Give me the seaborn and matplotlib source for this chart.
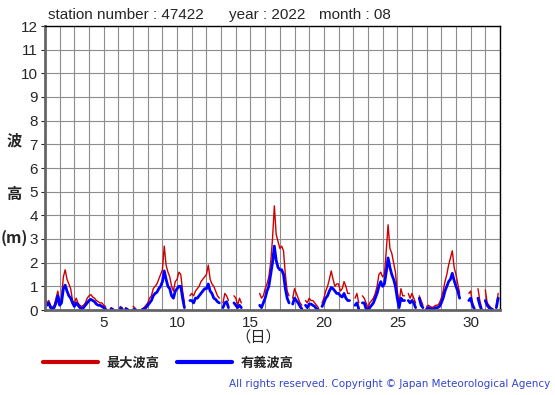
import numpy as np
import pandas as pd
import matplotlib
matplotlib.use("Agg")
import matplotlib.pyplot as plt
from matplotlib.lines import Line2D
import seaborn as sns

nan = np.nan

# 3-hourly wave heights (m), one row per day of August 2022
max_wave = [
    [0.5, 0.3, 0.4, 0.2, 0.1, 0.2, 0.5, 0.8],      # 1
    [0.3, 0.5, 1.4, 1.7, 1.3, 1.1, 0.9, 0.4],      # 2
    [0.3, 0.5, 0.3, 0.2, 0.15, 0.2, 0.3, 0.5],     # 3
    [0.6, 0.65, 0.55, 0.5, 0.4, 0.35, 0.3, 0.3],   # 4
    [0.2, 0.15, nan, nan, 0.1, 0.05, nan, nan],    # 5
    [nan, 0.15, 0.1, nan, 0.1, 0.05, nan, nan],    # 6
    [0.15, 0.1, nan, nan, nan, 0.05, 0.1, 0.2],    # 7
    [0.3, 0.5, 0.6, 0.9, 1.0, 1.1, 1.3, 1.5],      # 8
    [1.7, 2.7, 1.9, 1.6, 1.4, 1.0, 0.8, 1.2],      # 9
    [1.3, 1.6, 1.5, 0.8, 0.3, nan, nan, 0.6],      # 10
    [0.7, 0.6, 0.8, 0.9, 1.0, 1.2, 1.3, 1.4],      # 11
    [1.5, 1.9, 1.3, 1.1, 1.0, 0.8, 0.6, 0.5],      # 12
    [nan, 0.3, 0.7, 0.6, 0.4, nan, nan, 0.6],      # 13
    [0.5, 0.2, 0.5, 0.3, nan, nan, nan, nan],      # 14
    [nan, nan, nan, nan, nan, 0.7, 0.5, 0.6],      # 15
    [0.9, 1.1, 1.4, 2.0, 3.0, 4.4, 3.2, 2.9],      # 16
    [2.6, 2.7, 2.5, 1.5, 0.8, 0.6, nan, 0.5],      # 17
    [0.9, 0.7, 0.5, 0.3, 0.2, nan, 0.4, 0.3],      # 18
    [0.5, 0.4, 0.4, 0.3, 0.2, 0.1, nan, 0.3],      # 19
    [0.5, 0.8, 1.0, 1.3, 1.65, 1.3, 1.0, 1.1],     # 20
    [1.1, 0.8, 0.9, 1.2, 1.0, 0.7, 0.7, nan],      # 21
    [nan, 0.5, 0.7, 0.3, nan, 0.6, 0.5, 0.3],      # 22
    [0.1, 0.3, 0.4, 0.5, 0.7, 1.0, 1.5, 1.6],      # 23
    [1.4, 1.5, 2.5, 3.6, 2.6, 2.4, 2.0, 1.6],      # 24
    [0.8, 0.3, 0.9, 0.6, 0.6, nan, 0.7, 0.5],      # 25
    [0.7, 0.5, 0.3, nan, 0.6, 0.4, 0.2, nan],      # 26
    [0.15, 0.2, 0.15, 0.1, 0.15, 0.2, 0.2, 0.3],   # 27
    [0.5, 0.8, 1.2, 1.5, 1.9, 2.2, 2.5, 1.8],      # 28
    [1.5, 1.1, 0.7, nan, nan, nan, nan, 0.7],      # 29
    [0.8, 0.3, 0.1, nan, 0.9, 0.4, 0.1, nan],      # 30
    [0.85, 0.3, 0.2, 0.1, 0.05, nan, 0.2, 0.7],    # 31
]
sig_wave = [
    [0.3, 0.2, 0.3, 0.1, 0.05, 0.1, 0.3, 0.6],
    [0.2, 0.3, 0.9, 1.05, 0.8, 0.6, 0.5, 0.3],
    [0.15, 0.3, 0.2, 0.1, 0.05, 0.1, 0.2, 0.3],
    [0.4, 0.45, 0.4, 0.35, 0.25, 0.2, 0.2, 0.15],
    [0.1, 0.05, nan, nan, 0.05, 0.02, nan, nan],
    [nan, 0.08, 0.05, nan, 0.05, 0.02, nan, nan],
    [0.05, 0.05, nan, nan, nan, 0.02, 0.05, 0.1],
    [0.2, 0.3, 0.4, 0.6, 0.7, 0.75, 0.9, 1.0],
    [1.2, 1.65, 1.3, 1.0, 0.9, 0.6, 0.5, 0.8],
    [0.9, 1.0, 1.0, 0.5, 0.1, nan, nan, 0.4],
    [0.4, 0.3, 0.5, 0.5, 0.6, 0.7, 0.8, 0.9],
    [0.9, 1.1, 0.8, 0.7, 0.5, 0.45, 0.35, 0.3],
    [nan, 0.1, 0.3, 0.35, 0.1, nan, nan, 0.3],
    [0.2, 0.1, 0.2, 0.1, nan, nan, nan, nan],
    [nan, nan, nan, nan, nan, 0.2, 0.1, 0.3],
    [0.5, 0.8, 1.0, 1.5, 2.0, 2.7, 2.1, 1.8],
    [1.7, 1.7, 1.5, 0.9, 0.5, 0.3, nan, 0.25],
    [0.5, 0.4, 0.3, 0.15, 0.05, nan, 0.2, 0.1],
    [0.25, 0.25, 0.2, 0.15, 0.05, 0.02, nan, 0.15],
    [0.3, 0.5, 0.6, 0.8, 0.95, 0.9, 0.8, 0.7],
    [0.7, 0.6, 0.55, 0.7, 0.5, 0.4, 0.4, nan],
    [nan, 0.2, 0.3, 0.05, nan, 0.3, 0.3, 0.05],
    [0.0, 0.1, 0.2, 0.3, 0.5, 0.7, 1.0, 1.2],
    [1.0, 1.1, 1.6, 2.2, 1.8, 1.5, 1.3, 1.0],
    [0.5, 0.1, 0.5, 0.4, 0.4, nan, 0.4, 0.3],
    [0.4, 0.3, 0.1, nan, 0.5, 0.2, 0.1, nan],
    [0.05, 0.1, 0.05, 0.05, 0.05, 0.1, 0.1, 0.15],
    [0.3, 0.5, 0.8, 1.0, 1.2, 1.3, 1.55, 1.25],
    [1.0, 0.8, 0.5, nan, nan, nan, nan, 0.4],
    [0.5, 0.2, 0.05, nan, 0.5, 0.2, 0.0, nan],
    [0.4, 0.2, 0.1, 0.05, 0.02, nan, 0.1, 0.5],
]
days = np.arange(1, 32)
hours = [0, 3, 6, 9, 12, 15, 18, 21]
y_ticks = list(range(0, 13))
x_ticks = [5, 10, 15, 20, 25, 30]


def to_long(values):
    t = np.array([d + h / 24 for d in days for h in hours])
    v = np.array(values, dtype=float).ravel()
    df = pd.DataFrame({"day": t, "wave": v})
    # new segment after each missing value so gaps stay gaps
    df["seg"] = df["wave"].isna().cumsum()
    return df.dropna()


df_max = to_long(max_wave)
df_sig = to_long(sig_wave)

sns.set_style("white")
plt.rcParams["font.family"] = ["Liberation Sans", "Noto Sans CJK JP"]

fig = plt.figure(figsize=(5.55, 3.95), dpi=100)
ax = fig.add_axes([45 / 555, 1 - 310 / 395, 455 / 555, 284 / 395])

red = "#cc0000"
blue = "#0000ff"
sns.lineplot(data=df_max, x="day", y="wave", units="seg", estimator=None,
             color=red, linewidth=1.0, ax=ax)
sns.lineplot(data=df_sig, x="day", y="wave", units="seg", estimator=None,
             color=blue, linewidth=2.0, ax=ax)

ax.set_xlim(1, 32)
ax.set_ylim(0, 12)
ax.set_xticks(range(1, 33), minor=True)
ax.set_xticks(x_ticks)
ax.set_yticks(y_ticks)
ax.grid(True, which="both", axis="x", color="#8c8c8c", linewidth=0.8)
ax.grid(True, which="major", axis="y", color="#8c8c8c", linewidth=0.8)
ax.set_axisbelow(True)
ax.tick_params(axis="x", which="both", length=0, labelsize=11, pad=4)
ax.tick_params(axis="y", length=3, width=0.8, labelsize=11, pad=2, left=True)
ax.set_xlabel("")
ax.set_ylabel("")
for s in ax.spines.values():
    s.set_color("#000000")
    s.set_linewidth(1.0)
ax.spines["bottom"].set_color("#666666")
ax.spines["bottom"].set_linewidth(2)
ax.spines["left"].set_color("#666666")
ax.spines["left"].set_linewidth(2)

cjk = ["Noto Sans CJK JP", "DejaVu Sans"]
fig.text(48 / 555, 1 - 15 / 395, "station number : 47422", fontsize=11, va="center")
fig.text(229 / 555, 1 - 15 / 395, "year : 2022", fontsize=11, va="center")
fig.text(319 / 555, 1 - 15 / 395, "month : 08", fontsize=11, va="center")

fig.text(14 / 555, 1 - 140 / 395, "波", family=cjk, fontsize=11, weight="bold",
         ha="center", va="center")
fig.text(14 / 555, 1 - 194 / 395, "高", family=cjk, fontsize=11, weight="bold",
         ha="center", va="center")
fig.text(14 / 555, 1 - 238 / 395, "(m)", family=cjk, fontsize=11.5, weight="bold",
         ha="center", va="center")
fig.text(258 / 555, 1 - 337 / 395, "（日）", family=cjk, fontsize=11, ha="center", va="center")

handles = [Line2D([], [], color=red, linewidth=3), Line2D([], [], color=blue, linewidth=3)]
fig.legend(handles, ["最大波高", "有義波高"], loc="center left",
           bbox_to_anchor=(31 / 555, 1 - 363 / 395), ncol=2, frameon=False,
           handlelength=4.2, handletextpad=0.65, columnspacing=1.3,
           prop={"family": cjk, "weight": "bold", "size": 9.5})

fig.text(550 / 555, 1 - 384 / 395,
         "All rights reserved. Copyright © Japan Meteorological Agency",
         family="DejaVu Sans", fontsize=7.5, color="#3344cc", ha="right", va="center")

fig.savefig("out.png", dpi=100)
plt.close(fig)
